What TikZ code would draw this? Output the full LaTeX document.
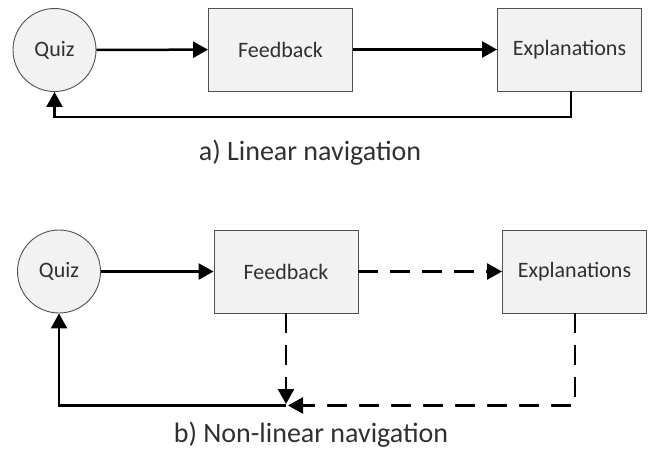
\documentclass[tikz,border=0pt]{standalone}
\usepackage{fontspec}
\setmainfont{Carlito}
\usetikzlibrary{shapes.geometric,arrows.meta}
\definecolor{boxfill}{HTML}{F2F2F2}
\definecolor{boxdraw}{HTML}{505050}
\definecolor{txt}{HTML}{303030}
\tikzset{
  quiznode/.style={circle,draw=boxdraw,fill=boxfill,line width=0.9pt,inner sep=0pt,minimum size=83pt,text=txt,font=\fontsize{22}{26}\selectfont},
  boxnode/.style={rectangle,draw=boxdraw,fill=boxfill,line width=0.9pt,inner sep=0pt,minimum width=144pt,minimum height=83pt,text=txt,font=\fontsize{22}{26}\selectfont},
  conn/.style={line width=2.5pt,-{Triangle[length=15pt,width=16pt]}},
  dashconn/.style={dash pattern=on 20pt off 12pt},
  caption/.style={font=\fontsize{28}{32}\selectfont,text=txt}
}
\begin{document}
\begin{tikzpicture}[x=1pt,y=-1pt]
\useasboundingbox (0,0) rectangle (650,461);
% (a) linear
\node[quiznode] (qa) at (54.5,50) {Quiz};
\node[boxnode] (fa) at (280.5,49.5) {Feedback};
\node[boxnode] (ea) at (569.5,49.5) {Explanations};
\draw[conn] (qa) -- (fa);
\draw[conn] (fa) -- (ea);
\coordinate (ra) at (571,117);
\draw[conn] (ea.south -| ra) -- (ra) -| (qa.south);
\node[caption] (ca) at (310,153) {a) Linear navigation};
% (b) non-linear
\node[quiznode] (qb) at (59,271.5) {Quiz};
\node[boxnode] (fb) at (286,271.5) {Feedback};
\node[boxnode] (eb) at (574.5,271.5) {Explanations};
\draw[conn] (qb) -- (fb);
\draw[conn,dashconn] (fb) -- (eb);
\coordinate (jb) at (286,405.5);
\coordinate (jt) at (286,404);
\coordinate (jr) at (288,405.5);
\coordinate (rb) at (575,405.5);
\draw[conn,dashconn] (fb.south) -- (jt);
\draw[conn,dashconn] (eb.south -| rb) -- (rb) -- (jr);
\draw[conn] (jb) -| (qb.south);
\node[caption] (cb) at (311,435) {b) Non-linear navigation};
\end{tikzpicture}
\end{document}
